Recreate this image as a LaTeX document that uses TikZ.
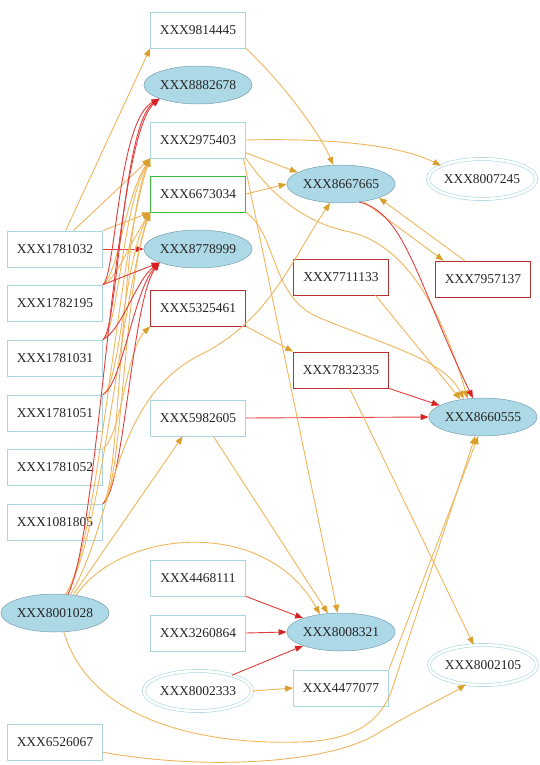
\documentclass[tikz,border=0pt]{standalone}
\usepackage{fontspec}
\setmainfont{Liberation Serif}
\usetikzlibrary{shapes.geometric,arrows.meta,calc}
\definecolor{boxblue}{RGB}{170,214,224}
\definecolor{ellfill}{RGB}{173,216,230}
\definecolor{elldraw}{RGB}{120,160,175}
\definecolor{redbox}{RGB}{180,50,50}
\definecolor{greenbox}{RGB}{60,185,60}
\definecolor{oline}{RGB}{240,182,92}
\definecolor{oarrow}{RGB}{218,160,45}
\definecolor{rline}{RGB}{226,62,62}
\definecolor{rarrow}{RGB}{215,35,35}
\begin{document}
\begin{tikzpicture}[x=1pt,y=-1pt,
  every node/.style={font=\fontsize{13.5}{16}\selectfont, text=black!85},
  boxnode/.style={rectangle, draw=boxblue, fill=white, line width=0.7pt, minimum width=95pt, minimum height=36pt, inner sep=0pt},
  rednode/.style={boxnode, draw=redbox},
  greennode/.style={boxnode, draw=greenbox},
  ellnode/.style={ellipse, draw=elldraw, fill=ellfill, line width=0.5pt, minimum width=104pt, minimum height=38pt, inner sep=0pt},
  dblnode/.style={ellipse, draw=boxblue, double=white, double distance=2.5pt, line width=0.6pt, minimum width=106pt, minimum height=40pt, inner sep=0pt},
  oedge/.style={draw=oline, line width=0.9pt, -{Triangle[length=8pt,width=6pt,color=oarrow]}},
  redge/.style={draw=rline, line width=0.9pt, -{Triangle[length=8pt,width=6pt,color=rarrow]}},
]
\fill[white] (0,0) rectangle (539,765);
\useasboundingbox (0,0) rectangle (539,765);

% middle column
\node[boxnode] (n9814445) at (198,30) {XXX9814445};
\node[ellnode] (n8882678) at (198,85) {XXX8882678};
\node[boxnode] (n2975403) at (198,140) {XXX2975403};
\node[greennode] (n6673034) at (198,194) {XXX6673034};
\node[ellnode] (n8778999) at (198,249) {XXX8778999};
\node[rednode] (n5325461) at (198,308) {XXX5325461};
\node[boxnode] (n5982605) at (198,418) {XXX5982605};
\node[boxnode] (n4468111) at (198,578) {XXX4468111};
\node[boxnode] (n3260864) at (198,633) {XXX3260864};
\node[dblnode, minimum width=100pt] (n8002333) at (198,691) {XXX8002333};
% left column
\node[boxnode] (n1781032) at (55,249) {XXX1781032};
\node[boxnode] (n1782195) at (55,303) {XXX1782195};
\node[boxnode] (n1781031) at (55,358) {XXX1781031};
\node[boxnode] (n1781051) at (55,413) {XXX1781051};
\node[boxnode] (n1781052) at (55,467) {XXX1781052};
\node[boxnode] (n1081805) at (55,522) {XXX1081805};
\node[ellnode] (n8001028) at (55,613) {XXX8001028};
\node[boxnode] (n6526067) at (55,742) {XXX6526067};
% right-middle column
\node[ellnode] (n8667665) at (341,184) {XXX8667665};
\node[rednode] (n7711133) at (341,277) {XXX7711133};
\node[rednode] (n7832335) at (341,370) {XXX7832335};
\node[ellnode] (n8008321) at (341,632) {XXX8008321};
\node[boxnode] (n4477077) at (341,688) {XXX4477077};
% right column
\node[dblnode] (n8007245) at (482,179) {XXX8007245};
\node[rednode] (n7957137) at (483,279) {XXX7957137};
\node[ellnode] (n8660555) at (483,417) {XXX8660555};
\node[dblnode] (n8002105) at (483,665) {XXX8002105};

% from 1781032
\draw[oedge] (n1781032.60) -- (n9814445.south west);
\draw[oedge] (n1781032.45) -- (n2975403.south west);
\draw[oedge] (n1781032.north east) -- (n6673034.south west);
\draw[redge] (n1781032.east) -- (n8778999.west);

% left bundle, orange
\draw[oedge] (n1782195.north east) .. controls (118,275) and (124,200) .. (n2975403.south west);
\draw[oedge] (n1782195.north east) .. controls (118,277) and (126,250) .. (n6673034.south west);
\draw[oedge] (n1781031.north east) .. controls (118,330) and (122,210) .. (n2975403.south west);
\draw[oedge] (n1781051.north east) .. controls (120,385) and (124,260) .. (n6673034.south west);
\draw[oedge] (n1781052.north east) .. controls (122,435) and (126,350) .. (n5325461.south west);
\draw[oedge] (n1081805.north east) .. controls (120,490) and (120,230) .. (n2975403.south west);
\draw[oedge] (n1081805.north east) .. controls (122,490) and (124,280) .. (n6673034.south west);
\draw[oedge] (n8001028.60) .. controls (100,540) and (116,260) .. (n2975403.south west);
\draw[oedge] (n8001028.60) .. controls (102,540) and (120,300) .. (n6673034.south west);

% left bundle, red
\draw[redge] (n1782195.north east) .. controls (116,275) and (118,120) .. (n8882678.south west);
\draw[redge] (n1781031.north east) .. controls (118,330) and (122,125) .. (n8882678.south west);
\draw[redge] (n8001028.55) .. controls (100,530) and (113,140) .. (n8882678.south west);
\draw[redge] (n1782195.north east) -- (n8778999.south west);
\draw[redge] (n1781031.north east) .. controls (122,330) and (136,280) .. (n8778999.south west);
\draw[redge] (n1781051.north east) .. controls (122,385) and (134,290) .. (n8778999.south west);
\draw[redge] (n1081805.north east) .. controls (124,490) and (132,300) .. (n8778999.south west);

% upper right
\draw[oedge] (n9814445.south east) .. controls (280,80) and (318,130) .. (n8667665.112);
\draw[oedge] (n2975403.east) .. controls (330,138) and (400,145) .. (n8007245.162);
\draw[oedge] (n2975403.-15) -- (n8667665.165);
\draw[oedge] (n2975403.south east) .. controls (268,190) and (300,222) .. (350,232)
   .. controls (410,246) and (445,320) .. (n8660555.130);
\draw[oedge] (n2975403.-22) -- (n8008321.100);
\draw[oedge] (n6673034.east) -- (n8667665.west);
\draw[oedge] (n6673034.south east) .. controls (278,235) and (270,298) .. (320,318)
   .. controls (385,345) and (445,360) .. (n8660555.137);
\draw[oedge] (n5325461.south east) -- (n7832335.north west);
\draw[oedge] (n7711133.-28) -- (n8660555.142);
\draw[oedge] (n8667665.-38) -- (n7957137.155);
\draw[oedge] (n7957137.135) -- (n8667665.-20);
\draw[redge] (n8667665.-45) .. controls (405,212) and (418,285) .. (n8660555.118);
\draw[redge] (n7832335.south east) -- (n8660555.165);
\draw[redge] (n5982605.east) -- (n8660555.west);
\draw[oedge] (n7832335.-65) -- (n8002105.115);

% lower part
\draw[oedge] (n5982605.-50) -- (n8008321.125);
\draw[oedge] (n8001028.45) -- (n5982605.-130);
\draw[oedge] (n8001028.40) .. controls (120,530) and (265,515) .. (n8008321.140);
\draw[oedge] (n8001028.50) .. controls (115,520) and (110,400) .. (200,355)
   .. controls (270,320) and (290,262) .. (n8667665.-120);
\draw[oedge] (n8001028.-65) .. controls (90,720) and (200,745) .. (300,742)
   .. controls (365,740) and (385,715) .. (395,680) -- (n8660555.-112);
\draw[oedge] (n6526067.-12) .. controls (200,770) and (330,765) .. (380,732)
   .. controls (420,708) and (450,695) .. (n8002105.-132);
\draw[oedge] (n4477077.north east) -- (n8660555.-104);
\draw[oedge] (n8002333.east) -- (n4477077.west);
\draw[redge] (n4468111.south east) -- (n8008321.160);
\draw[redge] (n3260864.east) -- (n8008321.west);
\draw[redge] (n8002333.25) -- (n8008321.-160);
\end{tikzpicture}
\end{document}
